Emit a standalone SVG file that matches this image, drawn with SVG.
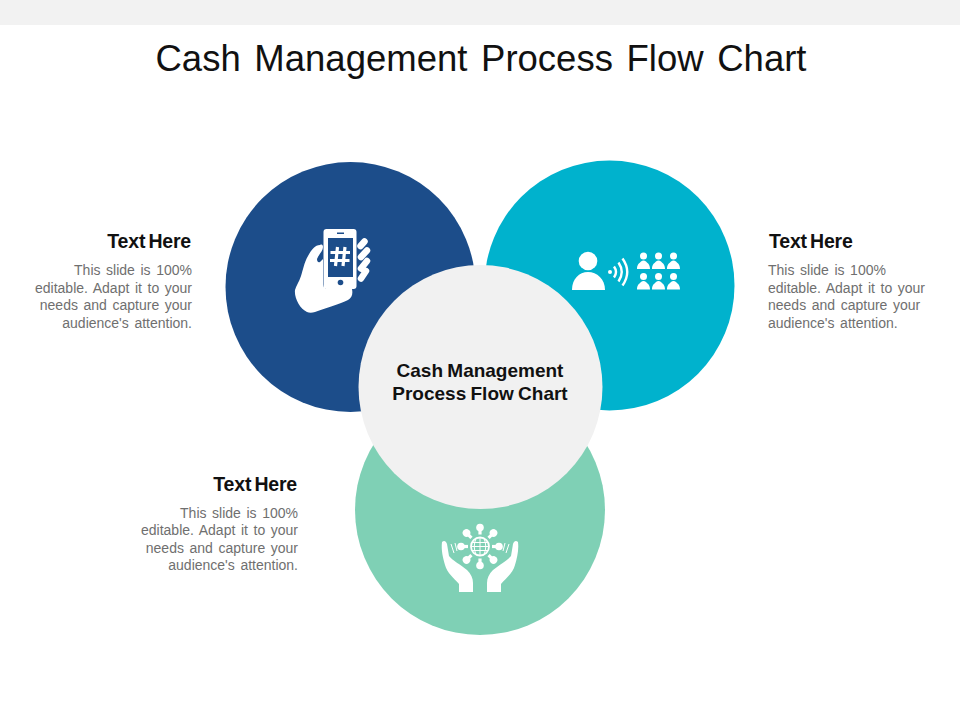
<svg xmlns="http://www.w3.org/2000/svg" width="960" height="720" viewBox="0 0 960 720">
<style>
text{font-family:"Liberation Sans",Arial,sans-serif}
.t{font-size:36.500px;fill:#111;text-anchor:middle;word-spacing:3.500px}
.h{font-size:19.500px;font-weight:bold;fill:#111;letter-spacing:-.2px;word-spacing:-2px}
.b{font-size:14px;fill:#6f6f6f;word-spacing:1.700px}
.c{font-size:19px;font-weight:bold;fill:#111;text-anchor:middle;word-spacing:-1px}
.e{text-anchor:end}
.w{fill:#fff}
</style>
<defs>
<g id="person"><circle cx="0" cy="0" r="3.500"/><path d="M-6.500 13C-6.500 8.500 -4.500 7.500 -2.500 5.500Q0 3.500 2.500 5.500C4.500 7.500 6.500 8.500 6.500 13Z"/></g>
<g id="bulb"><circle cx="0" cy="0" r="3.800"/><rect x="-1.600" y="1" width="3.200" height="6"/></g>
</defs>
<rect width="960" height="720" fill="#fff"/>
<rect width="960" height="25" fill="#f2f2f2"/>
<text class="t" x="481" y="71">Cash Management Process Flow Chart</text>
<g id="node-blue">
<circle cx="350.500" cy="287" r="125" fill="#1c4d8a"/>
<path class="w" d="M320 245C315 245 312 249 308 256C304 263 303 270 301 276C299 282 296 286 295 290C294 298 300 309 307 312C309 313 312 313 315 312C326 308 340 304 348 300C352 298 353 294 352 289L328 289C325 289 323 287 323 284L323 259L320 262C318 263 317 261 317 259C319 254 323 251 323 247C323 245 322 244 320 245Z"/>
<rect class="w" x="323.500" y="229" width="33" height="60" rx="3"/>
<rect x="328" y="238" width="25" height="39" fill="#1c4d8a"/>
<rect x="337" y="232.500" width="7" height="1.500" fill="#1c4d8a"/>
<circle cx="340.500" cy="282.500" r="2.800" fill="#1c4d8a"/>
<path d="M337.500 247L335.500 266M345 247L343 266M330.500 252.500H350M330 260.500H349.500" stroke="#fff" stroke-width="3.200" fill="none"/>
<path d="M360.500 246L364.500 241.500M361 257L367 250.500M361 268.500L367 261M361 278.500L366 271" fill="none" stroke="#fff" stroke-width="6.500" stroke-linecap="round"/>
</g>
<g id="node-cyan">
<circle cx="609.500" cy="285.500" r="125" fill="#00b2cd"/>
<circle class="w" cx="588" cy="261" r="9.300"/>
<path class="w" d="M572 290C572 279 579 272 588 272C597 272 605 279 605 290Z"/>
<circle class="w" cx="610" cy="272" r="2"/>
<path d="M614 266.500Q618 272 614 277.500M618.500 262.500Q625 272 618.500 281.500M622.500 258.500Q632 272 622.500 285.500" fill="none" stroke="#fff" stroke-width="2.400"/>
<g class="w">
<use href="#person" x="643.500" y="256"/>
<use href="#person" x="658.500" y="256"/>
<use href="#person" x="673.500" y="256"/>
<use href="#person" x="643.500" y="276.500"/>
<use href="#person" x="658.500" y="276.500"/>
<use href="#person" x="673.500" y="276.500"/>
</g>
</g>
<g id="node-green">
<circle cx="480" cy="510" r="125" fill="#7fd0b5"/>
<path class="w" d="M442 542C444 540 446 541 447 544L449 556C453 561 460 564 467 570C471 574 473 578 473 583V592H459V584C454 578 447 573 445 565C443 558 441 550 442 542Z"/>
<path class="w" d="M518 542C516 540 514 541 513 544L511 556C507 561 500 564 493 570C489 574 487 578 487 583V592H501V584C506 578 513 573 515 565C517 558 519 550 518 542Z"/>
<path d="M451 544L454 553M455 543L457 551M509 544L506 553M505 543L503 551" stroke="#fff" stroke-width="1" fill="none"/>
<circle cx="480" cy="546.500" r="9" fill="none" stroke="#fff" stroke-width="1.800"/>
<path d="M471 546.500H489M472 542.500H488M472 550.500H488M480 537.500V555.500M476 538.500Q472.500 546.500 476 554.500M484 538.500Q487.500 546.500 484 554.500" fill="none" stroke="#fff" stroke-width="1"/>
<g class="w">
<use href="#bulb" transform="translate(480 527.500)"/>
<use href="#bulb" transform="translate(480 565.500) rotate(180)"/>
<use href="#bulb" transform="translate(461 546.500) rotate(-90)"/>
<use href="#bulb" transform="translate(499 546.500) rotate(90)"/>
<use href="#bulb" transform="translate(466.500 533) rotate(-45)"/>
<use href="#bulb" transform="translate(493.500 533) rotate(45)"/>
<use href="#bulb" transform="translate(466.500 560) rotate(-135)"/>
<use href="#bulb" transform="translate(493.500 560) rotate(135)"/>
</g>
</g>
<g id="node-center">
<circle cx="480.500" cy="387" r="122" fill="#f1f1f1"/>
<text class="c" x="480" y="377">Cash Management</text>
<text class="c" x="480" y="400">Process Flow Chart</text>
</g>
<g id="label-left">
<text class="h e" x="191" y="248">Text Here</text>
<text class="b e" x="192" y="275">This slide is 100%</text>
<text class="b e" x="192" y="293">editable. Adapt it to your</text>
<text class="b e" x="192" y="310">needs and capture your</text>
<text class="b e" x="192" y="328">audience's attention.</text>
</g>
<g id="label-right">
<text class="h" x="769" y="248">Text Here</text>
<text class="b" x="768" y="275">This slide is 100%</text>
<text class="b" x="768" y="293">editable. Adapt it to your</text>
<text class="b" x="768" y="310">needs and capture your</text>
<text class="b" x="768" y="328">audience's attention.</text>
</g>
<g id="label-bottom">
<text class="h e" x="297" y="491">Text Here</text>
<text class="b e" x="298" y="518">This slide is 100%</text>
<text class="b e" x="298" y="535">editable. Adapt it to your</text>
<text class="b e" x="298" y="553">needs and capture your</text>
<text class="b e" x="298" y="570">audience's attention.</text>
</g>
<g id="connectors"/>
</svg>
